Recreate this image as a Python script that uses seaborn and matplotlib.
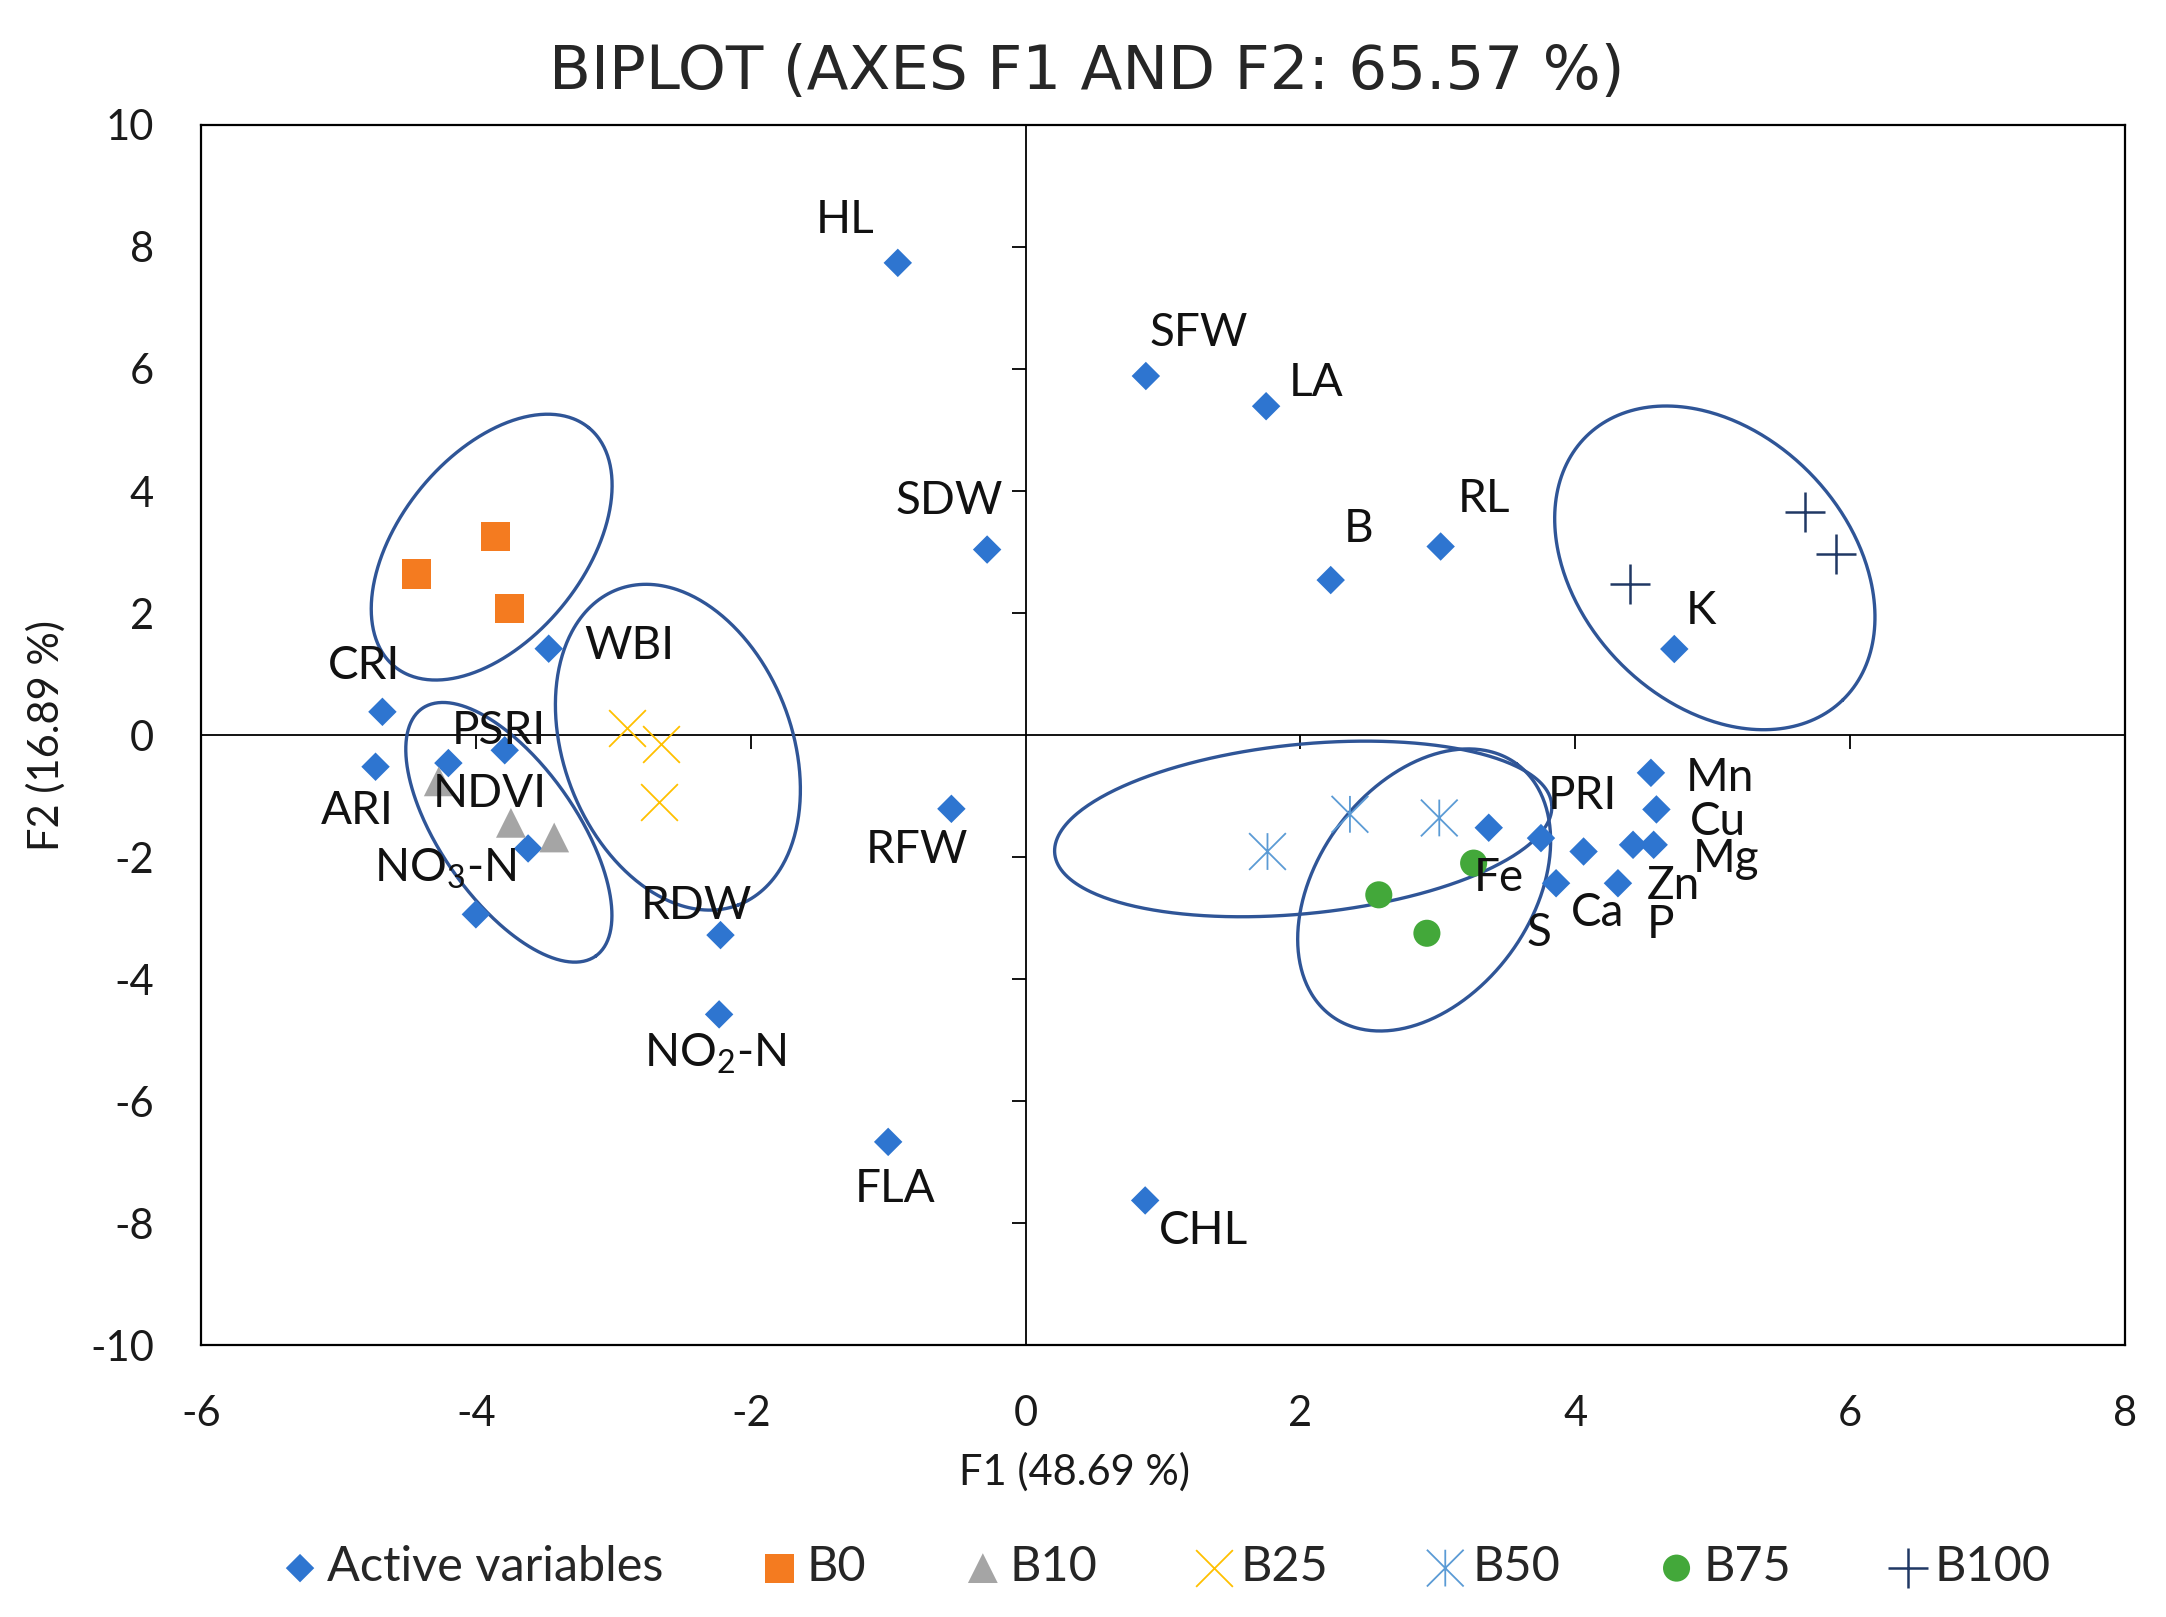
import numpy as np
import pandas as pd
import matplotlib
matplotlib.use("Agg")
import matplotlib.pyplot as plt
import seaborn as sns
from matplotlib.path import Path
from matplotlib.markers import MarkerStyle, TICKDOWN, TICKLEFT

sns.set_theme(style="white")
plt.rcParams['font.family'] = ['Lato', 'DejaVu Sans']
plt.rcParams['axes.unicode_minus'] = False

# Active variables (F1, F2 coordinates)
act_names = ['HL', 'SFW', 'LA', 'SDW', 'B', 'RL', 'K', 'WBI', 'CRI', 'PSRI', 'ARI',
             'NDVI', '', 'NO$_\\mathregular{3}$-N', 'RDW', 'NO$_\\mathregular{2}$-N',
             'RFW', 'FLA', 'CHL', 'Fe', 'PRI', 'Ca', 'S', 'P', 'Zn', 'Mg', 'Cu', 'Mn']
act_x = [-0.93, 0.875, 1.75, -0.28, 2.22, 3.02, 4.72, -3.47, -4.68, -3.79, -4.73,
         -4.20, -3.62, -4.00, -2.22, -2.23, -0.54, -1.00, 0.87, 3.37, 3.75, 4.06,
         3.86, 4.31, 4.42, 4.57, 4.59, 4.55]
act_y = [7.74, 5.885, 5.39, 3.04, 2.54, 3.09, 1.41, 1.415, 0.38, -0.25, -0.52,
         -0.46, -1.86, -2.94, -3.28, -4.58, -1.21, -6.67, -7.63, -1.52, -1.69, -1.91,
         -2.43, -2.43, -1.80, -1.80, -1.22, -0.62]
# label offsets (points) from each marker
lab_dx = [-38, 38, 36, -27, 20, 31, 19, 58, -13, -4, -13, 30, 0, -22, -17, -3,
          -25, 5, 42, 7, 30, 10, -12, 31, 29, 52, 44, 50]
lab_dy = [31, 31, 17, 35, 37, 34, 27, 2, 33, 14, -32, -22, 0, 33, 21, -28,
          -30, -34, -22, -36, 30, -44, -36, -30, -30, -10, -9, -4]

# Observations by group
groups = ['B0', 'B10', 'B25', 'B50', 'B75', 'B100']
grp_x = {'B0': [-4.43, -3.86, -3.755], 'B10': [-4.27, -3.745, -3.43],
         'B25': [-2.90, -2.65, -2.67], 'B50': [1.76, 2.36, 3.01],
         'B75': [3.26, 2.57, 2.92], 'B100': [5.67, 5.90, 4.40]}
grp_y = {'B0': [2.64, 3.25, 2.08], 'B10': [-0.76, -1.44, -1.68],
         'B25': [0.12, -0.15, -1.10], 'B50': [-1.91, -1.30, -1.36],
         'B75': [-2.10, -2.62, -3.25], 'B100': [3.66, 2.97, 2.48]}

# Confidence ellipses: centre, semi-axes (in F1 units, on screen), angle on screen
ell_cx = [-3.885, -3.76, -2.53, 2.02, 2.90, 5.015]
ell_cy = [3.08, -1.595, -0.20, -1.54, -2.54, 2.74]
ell_a = [1.12, 1.10, 1.229, 1.817, 1.138, 1.338]
ell_b = [0.67, 0.495, 0.83, 0.616, 0.778, 0.977]
ell_ang = [51, -55, -69, 5.7, 53.7, -46]

asterisk = MarkerStyle(Path([(0, -1), (0, 1), (-1, -1), (1, 1), (-1, 1), (1, -1)],
                            [Path.MOVETO, Path.LINETO, Path.MOVETO, Path.LINETO,
                             Path.MOVETO, Path.LINETO]), fillstyle='none')

styles = {
    'B0': dict(marker='s', color='#F47B20', s=440, edgecolor='none'),
    'B10': dict(marker='^', color='#A5A5A5', s=460, edgecolor='none'),
    'B25': dict(marker='x', color='#FFC000', s=700, linewidth=1.3),
    'B50': dict(marker=asterisk, color='#5B9BD5', s=700, linewidth=1.3),
    'B75': dict(marker='o', color='#43A83A', s=380, edgecolor='none'),
    'B100': dict(marker='+', color='#203864', s=850, linewidth=1.8),
}

fig = plt.figure(figsize=(21.66, 16.17), dpi=100)
ax = fig.add_axes([0.0928, 0.1682, 0.8883, 0.7545])
ax.set_xlim(-6, 8)
ax.set_ylim(-10, 10)
ax.set_xticks(range(-6, 9, 2))
ax.set_yticks(range(-10, 11, 2))
ax.tick_params(length=0, labelsize=30, colors='#1a1a1a')
ax.tick_params(axis='x', pad=36)
ax.tick_params(axis='y', pad=34)
for sp in ax.spines.values():
    sp.set_color('black')
    sp.set_linewidth(1.6)

# zero lines with their own ticks
ax.axhline(0, color='black', lw=1.3, zorder=1)
ax.axvline(0, color='black', lw=1.3, zorder=1)
xt = [t for t in ax.get_xticks() if t not in (0, -6, 8)]
yt = [t for t in ax.get_yticks() if t not in (0, -10, 10)]
ax.plot(xt, [0] * len(xt), ls='none', marker=TICKDOWN, ms=10, mew=1.3, color='black')
ax.plot([0] * len(yt), yt, ls='none', marker=TICKLEFT, ms=10, mew=1.3, color='black')

# ellipses
bbox = ax.get_window_extent()
r = (bbox.height / 20) / (bbox.width / 14)
t = np.linspace(0, 2 * np.pi, 400)
for cx, cy, a, b, ang in zip(ell_cx, ell_cy, ell_a, ell_b, ell_ang):
    th = np.deg2rad(ang)
    ex = cx + a * np.cos(t) * np.cos(th) - b * np.sin(t) * np.sin(th)
    ey = cy + (a * np.cos(t) * np.sin(th) + b * np.sin(t) * np.cos(th)) / r
    ax.plot(ex, ey, color='#2F5597', lw=2.4, zorder=2)

# active variables
act = pd.DataFrame({'F1': act_x, 'F2': act_y})
sns.scatterplot(data=act, x='F1', y='F2', marker='D', color='#2E75D0', s=210,
                edgecolor='none', label='Active variables', ax=ax, zorder=3)
for name, x, y, dx, dy in zip(act_names, act_x, act_y, lab_dx, lab_dy):
    if name:
        ax.annotate(name, (x, y), xytext=(dx, dy), textcoords='offset points',
                    ha='center', va='center', fontsize=33, color='#111111', zorder=5)

for g in groups:
    sns.scatterplot(x=grp_x[g], y=grp_y[g], label=g, ax=ax, zorder=4, **styles[g])

ax.set_xlabel('F1 (48.69 %)', fontsize=30, color='#1a1a1a')
ax.set_ylabel('F2 (16.89 %)', fontsize=30, color='#1a1a1a')
ax.xaxis.set_label_coords(0.454, -0.104)
ax.xaxis.label.set_va('center')
ax.yaxis.set_label_coords(-0.0807, 0.5)
ax.yaxis.label.set_va('center')

ax.legend(loc='center', bbox_to_anchor=(0.537, 0.031), bbox_transform=fig.transFigure,
          ncol=7, frameon=False, fontsize=35, handletextpad=0.05, columnspacing=1.9,
          handlelength=1.0, borderaxespad=0)

fig.text(0.5016, 0.955, 'BIPLOT (AXES F1 AND F2: 65.57 %)', ha='center', va='center',
         fontsize=44, color='#262626', family=['DejaVu Sans'])

fig.savefig('out.png', dpi=100)
